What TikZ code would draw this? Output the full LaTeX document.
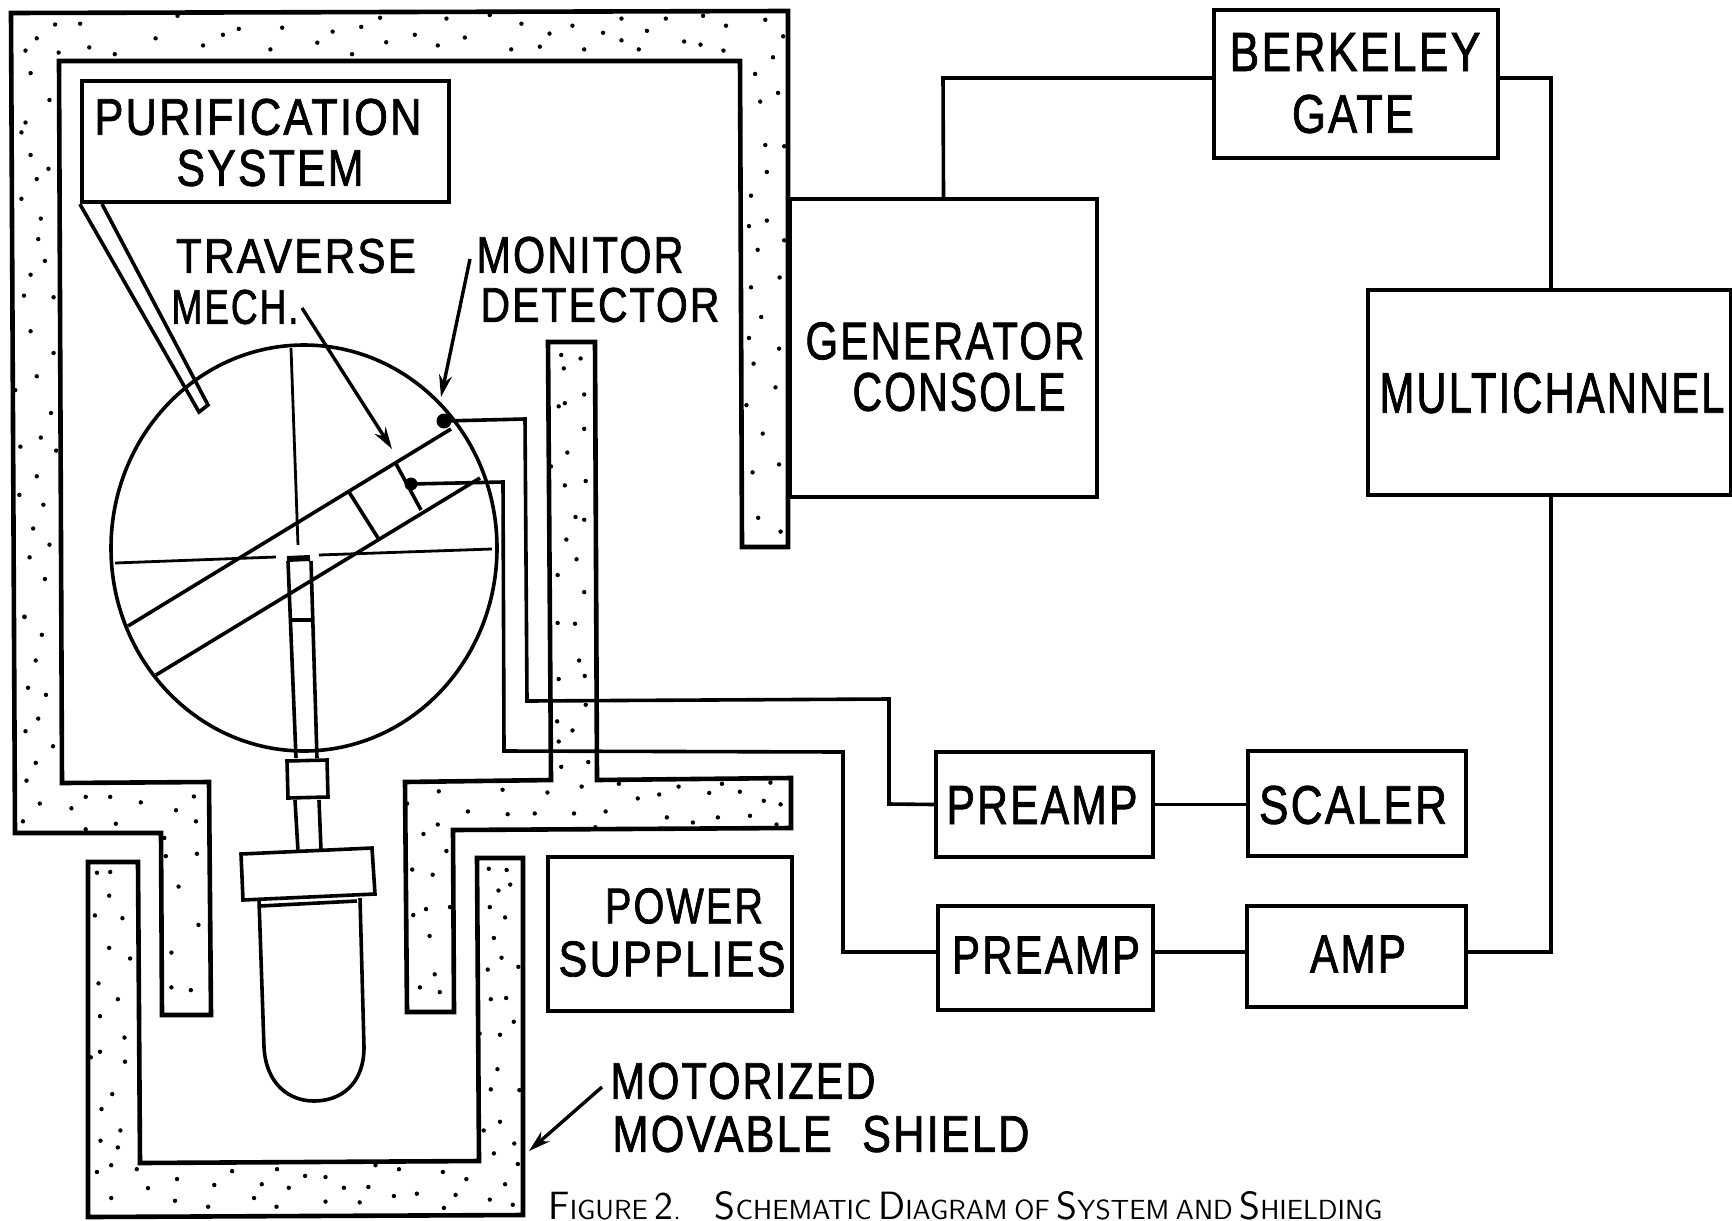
\documentclass[tikz,border=0pt]{standalone}
\usepackage{fontspec}
\usepackage{graphicx}
\setmainfont[FakeBold=1.6,LetterSpace=5]{Liberation Sans}
\usetikzlibrary{arrows.meta}
\newdimen\upx \upx=0.5pt
\newcommand{\fitT}[3]{\resizebox{#1\upx}{#2\upx}{#3}}
\newcommand{\capS}[2]{{\fontsize{20}{20}\selectfont #1}{\fontsize{14}{14}\selectfont #2}}
\tikzset{
  shield/.style={draw=black,line width=2.3pt,line join=miter},
  box/.style n args={2}{draw=black,line width=2.1pt,minimum width=#1*0.5pt,minimum height=#2*0.5pt,inner sep=0pt,rectangle},
  wire/.style={draw=black,line width=1.8pt,line join=miter},
  thinl/.style={draw=black,line width=1.4pt,line join=round},
  part/.style={draw=black,line width=1.8pt,line join=miter},
  lab/.style={inner sep=0pt,font=\fontsize{25}{25}\selectfont},
  dotn/.style={circle,fill=black,inner sep=0pt,minimum size=7.5pt},
  pointer/.style={draw=black,line width=1.7pt,-{Stealth[length=11pt,width=6.5pt]}},
}
\begin{document}
\begin{tikzpicture}[x=0.5pt,y=-0.5pt]
\useasboundingbox (0,0) rectangle (1732,1220);
\clip (0,0) rectangle (1732,1220);
\fill[white] (0,0) rectangle (1732,1220);

% main shield
\draw[shield] (11,13) -- (788,11) -- (788,547) -- (742,547) -- (740,61) -- (59,61) -- (62,783) -- (209,782) -- (211,1015) -- (162,1015) -- (161,833) -- (15,833) -- cycle;
\draw[shield] (548,342) -- (595,342) -- (597,780) -- (791,778) -- (791,828) -- (453,830) -- (454,1012) -- (407,1012) -- (405,782) -- (551,780) -- cycle;
% movable shield
\draw[shield] (88,862) -- (138,862) -- (140,1163) -- (479,1161) -- (477,858) -- (523,858) -- (523,1215) -- (88,1217) -- cycle;

% stipple
\foreach \x/\y in {108/62,157/60,72/97,50/128,115/133,175/120,225/137,305/97,398/115,437/88,468/73,553/70,530/125,622/108,652/80,708/68,690/137,757/107,813/88,858/115,875/47,911/95,960/38,1002/125,1022/60,1058/118,1077/85,1122/65,1145/125,1182/83,1218/47,1218/102,1252/125,1268/78,1305/47,1341/105,1373/113,1378/40,1423/65,1418/128,1500/50,1535/92,745/45,348/40,1515/145,
60/185,97/253,50/310,42/335,60/392,95/427,72/453,42/503,80/553,75/605,88/660,60/695,47/748,105/752,60/838,105/893,72/952,30/987,100/1045,80/1107,40/1130,110/1140,72/1205,38/1252,85/1277,65/1337,97/1378,58/1410,88/1465,48/1560,
1480/187,1525/235,1490/257,1500/367,1537/370,1503/435,1472/495,1503/558,1468/572,1537/608,1485/632,1528/702,1472/727,1492/802,1468/855,1527/882,1477/920,1520/980,1463/1025,1495/1097,1527/1175,1475/1195,1486/1310,1530/1345,
1100/898,1138/907,1105/932,1145/998,1095/1028,1107/1020,1145/1085,1112/1145,1080/1180,1107/1228,1148/1217,1128/1308,1145/1315,1110/1365,1130/1415,1093/1455,1145/1498}
  \fill[black] ({\x/1.96},{\y/2.53}) circle (2.2);
\foreach \x/\y in {48/43,82/88,70/153,55/222,90/240,75/300,50/332,104/370,70/412,52/457,78/515,168/498,216/498,276/512,380/497,140/527,345/532,45/560,227/566,384/560,168/580,322/602,325/648,386/642,350/725,389/822,336/892,336/980,374/987,
1093/58,1127/60,1135/153,1146/192,1095/200,1092/307,1122/330,1095/358,1148/265,1100/422,1153/410,1140/472,
860/484,985/480,1073/487,1213/465,1250/502,1292/492,1330/472,1390/488,1415/465,1450/485,1510/462,1497/508,1530/517,917/535,995/542,1048/540,1125/540,1187/535,1307/550,1358/563,1407/550,1470/546,1522/568,1167/575,798/515,858/568,830/592,875/635,808/682,848/695,882/777,835/782,810/797,842/850,852/947,823/980,862/992,
190/690,216/688,214/748,186/798,240/805,214/880,255/907,193/970,231/1010,196/1053,244/1107,196/1143,178/1157,245/1168,220/1250,199/1288,236/1342,197/1368,231/1385,218/1430,190/1447,268/1440,218/1513,
958/680,993/683,1000/720,977/735,960/777,990/803,968/855,983/905,1016/928,956/935,962/1010,992/1007,1007/1067,940/1097,980/1100,975/1187,1018/1240,962/1238,980/1320,948/1342,1008/1375,968/1400,1015/1427,
455/1445,543/1440,598/1457,638/1460,736/1430,782/1440,868/1447,914/1465,347/1465,290/1488,420/1480,513/1478,566/1487,674/1487,722/1485,772/1508,817/1502,893/1505,990/1478,343/1520,408/1535,498/1513,542/1535,638/1522,705/1524,870/1538,960/1517,1005/1530}
  \fill[black] ({\x/1.96},{600+\y/2.53}) circle (2.2);

% boxes (named nodes)
\node[box={367}{121}] (purif) at (265.5,141.5) {};
\node[box={307}{298}] (gen) at (943.5,348) {};
\node[box={284}{148}] (berk) at (1356,84) {};
\node[box={363}{205}] (multi) at (1549.5,392.5) {};
\node[box={217}{105}] (pre1) at (1044.5,804.5) {};
\node[box={218}{105}] (scal) at (1357,803.5) {};
\node[box={215}{104}] (pre2) at (1045.5,958) {};
\node[box={219}{101}] (amp) at (1356.5,956.5) {};
\node[box={244}{154}] (power) at (670,934) {};

% chamber
\draw[part] (304,548) circle [x radius=193, y radius=203];
% purification pipe
\draw[part] (purif.south west) -- (199,412) -- (208,405) -- (102,204);
% traverse mechanism
\draw[part] (128,626) -- (451,429);
\draw[part] (156,675) -- (480,478);
\draw[part] (395,462) -- (421,510);
\draw[part] (349,492) -- (378,538);
\draw[thinl] (291,348) -- (298,545);
\draw[thinl] (115,563) -- (276,557);
\draw[thinl] (319,555) -- (492,549);
% rod and source
\draw[part] (288,561) -- (296,758);
\draw[part] (311,561) -- (317,758);
\draw[line width=3pt] (287,559) -- (310,558);
\draw[part] (291,620) -- (311,620);
\draw[part] (287,761) -- (327,760) -- (328,797) -- (288,798) -- cycle;
\draw[part] (295,800) -- (298,851);
\draw[part] (319,800) -- (321,850);
\draw[part] (241,854) -- (372,848) -- (375,894) -- (243,900) -- cycle;
\draw[part] (259,900) -- (264,1047) .. controls (266,1085) and (290,1101) .. (314,1101) .. controls (340,1101) and (364,1085) .. (364,1047) -- (360,898);
\draw[part] (260,906) -- (357,901);

% detector dots
\node[dotn] (mon) at (444,421) {};
\node[dotn,minimum size=6.5pt] (det) at (411,484) {};

% wires
\coordinate (tg) at (943,78);
\coordinate (tm) at (1551,78);
\coordinate (am) at (1551,952);
\draw[wire] (gen.north) -- (tg) -- (berk.west |- tg);
\draw[wire] (berk.east |- tg) -- (tm) -- (tm |- multi.north);
\draw[wire] (tm |- multi.south) -- (am) -- (amp.east |- am);
\draw[wire] (pre1.east) -- (scal.west |- pre1.east);
\draw[wire] (pre2.east |- am) -- (amp.west |- am);
\draw[wire] (mon.center) -- (525,419) -- (527,701) -- (889,699) -- (889,804) -- (pre1.west);
\draw[wire] (det.center) -- (503,482) -- (504,751) -- (843,752) -- (843,952) -- (pre2.west |- am);

% pointers
\coordinate (ptr1) at (302,308);
\coordinate (ptr1e) at (392,449);
\coordinate (ptr2) at (470,259);
\coordinate (ptr2e) at (441,397);
\coordinate (ptr3) at (602,1087);
\coordinate (ptr3e) at (529,1151);
\draw[pointer] (ptr1) -- (ptr1e);
\draw[pointer] (ptr2) -- (ptr2e);
\draw[pointer] (ptr3) -- (ptr3e);

% labels
\node[lab] (t1) at (258,117) {\fitT{327}{36}{PURIFICATION}};
\node[lab] (t2) at (270,168) {\fitT{187}{36}{SYSTEM}};
\node[lab] (t3) at (296,256) {\fitT{240}{34}{TRAVERSE}};
\node[lab] (t4) at (235,307) {\fitT{127}{34}{MECH.}};
\node[lab] (t5) at (580,255) {\fitT{207}{36}{MONITOR}};
\node[lab] (t6) at (600,305) {\fitT{239}{34}{DETECTOR}};
\node[lab] (t7) at (945,341) {\fitT{279}{37}{GENERATOR}};
\node[lab] (t8) at (959,392) {\fitT{213}{38}{CONSOLE}};
\node[lab] (t9) at (1355,52) {\fitT{251}{38}{BERKELEY}};
\node[lab] (t10) at (1353,114) {\fitT{122}{38}{GATE}};
\node[lab] (t11) at (1552,393) {\fitT{345}{40}{MULTICHANNEL}};
\node[lab] (t12) at (1042,805) {\fitT{191}{38}{PREAMP}};
\node[lab] (t13) at (1353,805) {\fitT{188}{38}{SCALER}};
\node[lab] (t14) at (1046,955) {\fitT{188}{37}{PREAMP}};
\node[lab] (t15) at (1358,954) {\fitT{96}{37}{AMP}};
\node[lab] (t16) at (684,906) {\fitT{158}{35}{POWER}};
\node[lab] (t17) at (672,959) {\fitT{227}{35}{SUPPLIES}};
\node[lab] (t18) at (743,1081) {\fitT{265}{36}{MOTORIZED}};
\node[lab] (t19) at (821,1134) {\fitT{417}{36}{MOVABLE\hspace{0.7em}SHIELD}};
\node[anchor=base west,inner sep=0pt] (cap) at (548,1219) {\sffamily\fitT{834}{28}{\capS{F}{IGURE} \capS{2}{.}\hspace{1.7em}\capS{S}{CHEMATIC} \capS{D}{IAGRAM} {\fontsize{14}{14}\selectfont OF} \capS{S}{YSTEM} {\fontsize{14}{14}\selectfont AND} \capS{S}{HIELDING}}};
\end{tikzpicture}
\end{document}
